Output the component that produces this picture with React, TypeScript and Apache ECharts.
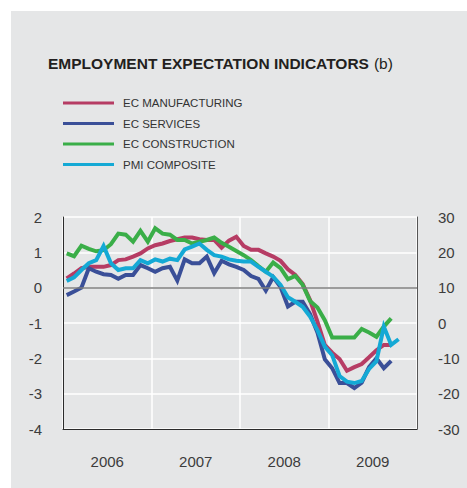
import React, { useEffect, useRef } from "react";
import * as echarts from "echarts";

const years = ["2006", "2007", "2008", "2009"];
const monthNames = ["01", "02", "03", "04", "05", "06", "07", "08", "09", "10", "11", "12"];

const seriesNames = ["EC MANUFACTURING", "EC SERVICES", "EC CONSTRUCTION", "PMI COMPOSITE"];
const seriesColors = ["#b63c64", "#3a4f98", "#3aae48", "#14a9d5"];

// monthly values from Jan 2006 (left scale)
const manufacturing = [
  0.26, 0.4, 0.55, 0.59, 0.59, 0.59, 0.64, 0.78, 0.8, 0.88, 0.97, 1.11,
  1.2, 1.25, 1.32, 1.37, 1.42, 1.42, 1.37, 1.35, 1.35, 1.13, 1.33, 1.44,
  1.18, 1.07, 1.07, 0.97, 0.88, 0.76, 0.52, 0.36, 0.1, -0.35, -0.96, -1.62,
  -1.84, -2.02, -2.35, -2.25, -2.16, -1.97, -1.77, -1.62, -1.62,
];
const services = [
  -0.21, -0.11, 0.0, 0.55, 0.45, 0.38, 0.36, 0.25, 0.36, 0.36, 0.64, 0.55,
  0.45, 0.55, 0.59, 0.2, 0.8, 0.69, 0.69, 0.88, 0.41, 0.76, 0.66, 0.59,
  0.5, 0.33, 0.25, -0.08, 0.3, 0.02, -0.53, -0.4, -0.4, -0.75, -1.27, -2.03,
  -2.28, -2.7, -2.7, -2.84, -2.69, -2.25, -2.0, -2.28, -2.07,
];
const construction = [
  0.97, 0.89, 1.19, 1.1, 1.03, 1.06, 1.23, 1.53, 1.5, 1.3, 1.61, 1.3,
  1.68, 1.53, 1.5, 1.35, 1.35, 1.25, 1.3, 1.35, 1.42, 1.27, 1.16, 1.04,
  0.92, 0.78, 0.61, 0.45, 0.71, 0.55, 0.24, 0.33, 0.08, -0.38, -0.56, -0.92,
  -1.41, -1.41, -1.41, -1.41, -1.17, -1.27, -1.39, -1.1, -0.87,
];
const pmiComposite = [
  0.19, 0.29, 0.5, 0.69, 0.78, 1.18, 0.69, 0.5, 0.55, 0.55, 0.78, 0.69,
  0.8, 0.74, 0.82, 0.78, 1.08, 1.16, 1.25, 1.07, 0.92, 0.88, 0.8, 0.76,
  0.74, 0.74, 0.59, 0.45, 0.31, 0.08, -0.27, -0.4, -0.54, -0.82, -1.2, -1.67,
  -1.91, -2.5, -2.66, -2.7, -2.64, -2.3, -2.08, -1.1, -1.62, -1.46,
];

const leftTicks = { min: -4, max: 2, interval: 1 };
const rightTicks = { min: -30, max: 30, interval: 10 };

const FONT = "'Liberation Sans', Arial, Helvetica, sans-serif";

export default function App() {
  const ref = useRef<HTMLDivElement>(null);

  useEffect(() => {
    if (!ref.current) return;
    const chart = echarts.init(ref.current, undefined, { renderer: "svg" });
    const months: string[] = [];
    years.forEach((y) => monthNames.forEach((m) => months.push(y + "-" + m)));
    const allData = [manufacturing, services, construction, pmiComposite];

    const lineSeries = allData.map((d, i) => ({
      name: seriesNames[i],
      type: "line",
      xAxisIndex: 0,
      yAxisIndex: 0,
      data: d,
      symbol: "none",
      showSymbol: false,
      lineStyle: { color: seriesColors[i], width: 4, join: "miter" },
      itemStyle: { color: seriesColors[i] },
      z: 3,
    }));

    chart.setOption({
      animation: false,
      backgroundColor: "#e5e6e7",
      textStyle: { fontFamily: FONT },
      title: {
        left: 37,
        top: 43,
        padding: 0,
        text: "{a|EMPLOYMENT EXPECTATION INDICATORS} {b|(b)}",
        textStyle: {
          rich: {
            a: { fontFamily: FONT, fontSize: 15.5, fontWeight: "bold", color: "#231f20" },
            b: { fontFamily: FONT, fontSize: 15.5, fontWeight: "normal", color: "#231f20" },
          },
        },
      },
      legend: {
        orient: "vertical",
        left: 52,
        top: 86,
        padding: 0,
        itemGap: 8.5,
        itemWidth: 51,
        itemHeight: 3,
        icon: "rect",
        data: seriesNames,
        textStyle: { fontFamily: FONT, fontSize: 11.5, color: "#333333", padding: [0, 0, 0, 4] },
      },
      grid: { left: 52, right: 50, top: 206, bottom: 59, containLabel: false },
      xAxis: [
        {
          type: "category",
          data: months,
          boundaryGap: true,
          show: false,
        },
        {
          type: "category",
          data: years,
          boundaryGap: true,
          position: "bottom",
          axisLine: { show: true, onZero: false, lineStyle: { color: "#2b2b2b", width: 1 } },
          axisTick: { show: false },
          axisLabel: { fontFamily: FONT, fontSize: 15, color: "#3c3c3c", margin: 25 },
          splitLine: { show: true, lineStyle: { color: "#ffffff", width: 1.5 } },
        },
      ],
      yAxis: [
        {
          type: "value",
          ...leftTicks,
          position: "left",
          axisLine: { show: true, onZero: false, lineStyle: { color: "#2b2b2b", width: 1 } },
          axisTick: { show: false },
          axisLabel: { fontFamily: FONT, fontSize: 15, color: "#3c3c3c", margin: 21 },
          splitLine: { show: true, lineStyle: { color: "#ffffff", width: 1.5 } },
        },
        {
          type: "value",
          ...rightTicks,
          position: "right",
          axisLine: { show: true, onZero: false, lineStyle: { color: "#555555", width: 1 } },
          axisTick: { show: false },
          axisLabel: { fontFamily: FONT, fontSize: 15, color: "#3c3c3c", margin: 21 },
          splitLine: { show: false },
        },
      ],
      series: [
        {
          name: "zero",
          type: "line",
          data: [],
          xAxisIndex: 0,
          yAxisIndex: 0,
          z: 2,
          markLine: {
            silent: true,
            symbol: ["none", "none"],
            label: { show: false },
            lineStyle: { color: "#7d7d7d", width: 1.5, type: "solid" },
            data: [{ yAxis: 0 }],
          },
        },
        ...lineSeries,
      ],
    });
    return () => chart.dispose();
  }, []);

  return (
    <div
      ref={ref}
      style={{ position: "fixed", left: 11, top: 11, width: 456, height: 477 }}
    />
  );
}
